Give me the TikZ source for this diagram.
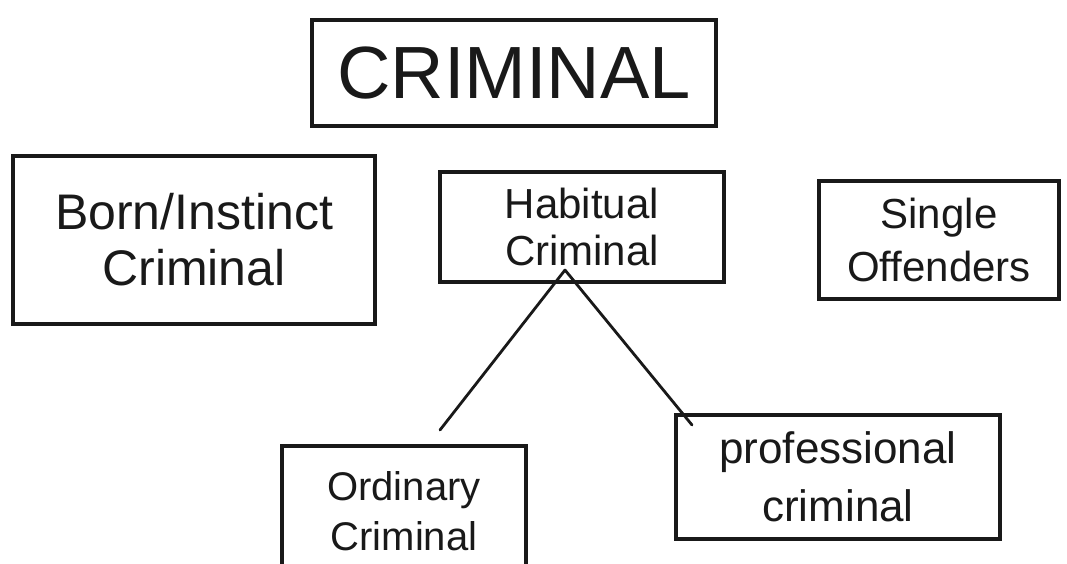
\documentclass[tikz,border=0pt]{standalone}
\usepackage{fontspec}
\setmainfont{Liberation Sans}
\begin{document}
\begin{tikzpicture}[x=1pt,y=-1pt,
  box/.style={draw=black!90, line width=3.4pt, inner sep=0pt, align=center, text=black!90},
  link/.style={draw=black!90, line width=2.8pt, line cap=round}]
\useasboundingbox (0,0) rectangle (1067,563);
\fill[white] (0,0) rectangle (1067,563);
\node[box, minimum width=404pt, minimum height=106pt, font=\fontsize{74}{80}\selectfont] (crim) at (514,73) {CRIMINAL};
\node[box, minimum width=362pt, minimum height=168pt, font=\fontsize{50}{56}\selectfont] (born) at (194,240) {Born/Instinct\\Criminal};
\node[box, minimum width=284pt, minimum height=110pt, font=\fontsize{42}{47}\selectfont] (hab) at (582,227) {Habitual\\Criminal};
\node[box, minimum width=240pt, minimum height=118pt, font=\fontsize{42}{53}\selectfont] (single) at (939,240) {Single\\Offenders};
\node[box, minimum width=244pt, minimum height=130pt, font=\fontsize{40}{50}\selectfont] (ord) at (404,511) {Ordinary\\Criminal};
\node[box, minimum width=324pt, minimum height=124pt, font=\fontsize{44}{58}\selectfont] (prof) at (838,477) {professional\\criminal};
\coordinate (apex) at (565,270);
\coordinate (ordtop) at (440,430);
\coordinate (proftop) at (692,425);
\draw[link] (apex) -- (ordtop);
\draw[link] (apex) -- (proftop);
\end{tikzpicture}
\end{document}
